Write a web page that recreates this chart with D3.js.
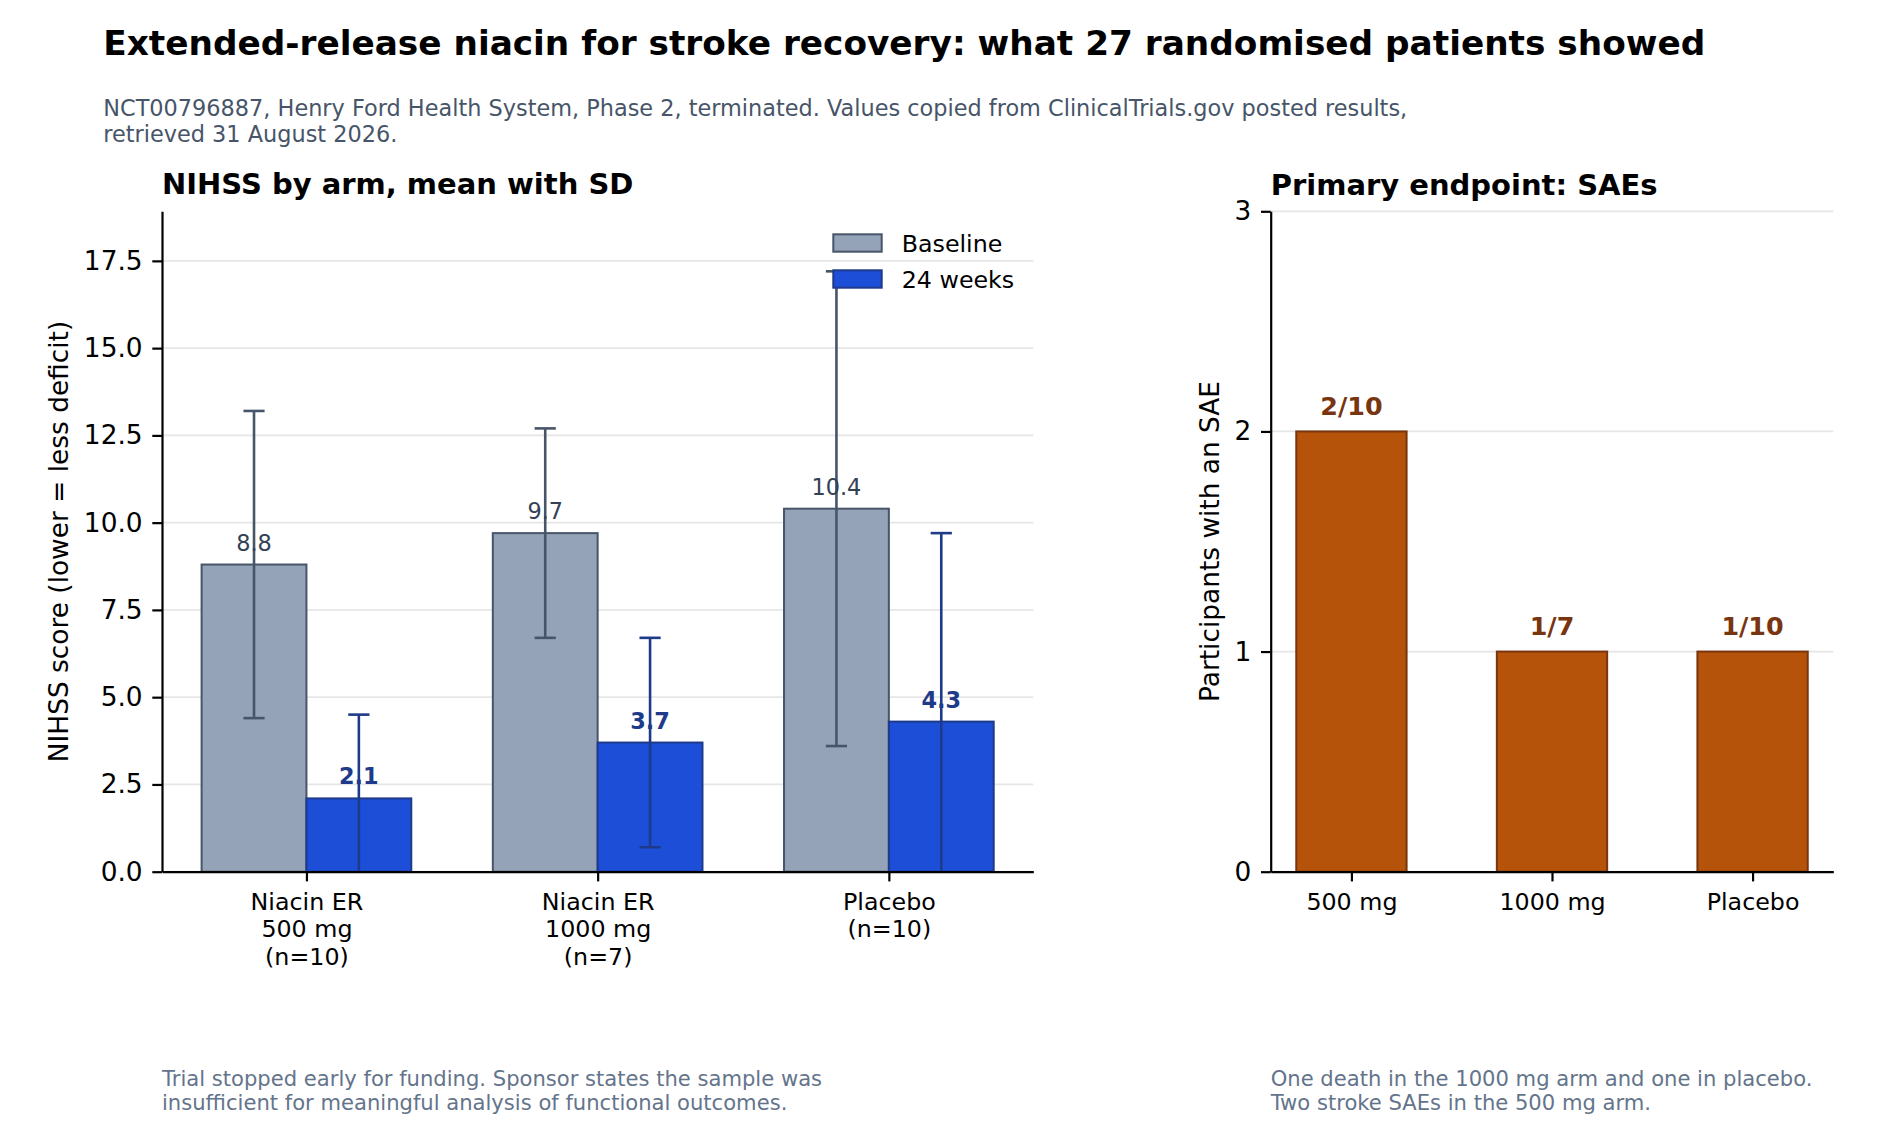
<!DOCTYPE html>
<html><head><meta charset="utf-8">
<script src="https://cdn.jsdelivr.net/npm/d3@7"></script>
<style>
body{margin:0;background:#fff}
svg text{font-family:"DejaVu Sans",sans-serif}
</style>
</head><body>
<svg id="chart" width="1900" height="1140"></svg>
<script>
// ---------- data ----------
const arms = ["Niacin ER\n500 mg\n(n=10)", "Niacin ER\n1000 mg\n(n=7)", "Placebo\n(n=10)"];
const baselineMean = [8.8, 9.7, 10.4];
const baselineSD = [4.4, 3.0, 6.8];
const week24Mean = [2.1, 3.7, 4.3];
const week24SD = [2.4, 3.0, 5.4];
const leftTicks = [0, 2.5, 5, 7.5, 10, 12.5, 15, 17.5];
const seriesNames = ["Baseline", "24 weeks"];
const saeArms = ["500 mg", "1000 mg", "Placebo"];
const saeCount = [2, 1, 1];
const saeTotal = [10, 7, 10];
const rightTicks = [0, 1, 2, 3];

const titleText = "Extended-release niacin for stroke recovery: what 27 randomised patients showed";
const subtitleLines = ["NCT00796887, Henry Ford Health System, Phase 2, terminated. Values copied from ClinicalTrials.gov posted results,",
  "retrieved 31 August 2026."];
const leftTitle = "NIHSS by arm, mean with SD";
const rightTitle = "Primary endpoint: SAEs";
const leftYLabel = "NIHSS score (lower = less deficit)";
const rightYLabel = "Participants with an SAE";
const leftNote = ["Trial stopped early for funding. Sponsor states the sample was",
  "insufficient for meaningful analysis of functional outcomes."];
const rightNote = ["One death in the 1000 mg arm and one in placebo.",
  "Two stroke SAEs in the 500 mg arm."];

// ---------- styles ----------
const C = {
  baseFill: "#94a3b8", baseEdge: "#475569", baseLabel: "#334155",
  wkFill: "#1d4ed8", wkEdge: "#1e3a8a", wkLabel: "#1e3a8a",
  saeFill: "#b45309", saeEdge: "#78350f", saeLabel: "#78350f",
  grid: "#e6e6e6", sub: "#475569", note: "#64748b"
};
const XTICK = 23.75, YTICK = 26.4, LABEL = 26.4;

const svg = d3.select("#chart");

// ---------- header ----------
svg.append("text").attr("x", 103.3).attr("y", 55).attr("font-size", 34.3)
  .attr("font-weight", "bold").attr("fill", "#000").text(titleText);
subtitleLines.forEach((t, i) => svg.append("text").attr("x", 103.3).attr("y", 116 + i * 25.5)
  .attr("font-size", 22.4).attr("fill", C.sub).text(t));

const yTop = 211.3, yBottom = 871.7;

function styleAxis(g, size) {
  g.attr("font-family", null).attr("font-size", size);
  g.selectAll(".domain").attr("stroke", "#000").attr("stroke-width", 2.2);
  g.selectAll(".tick line").attr("stroke", "#000").attr("stroke-width", 2.2);
  g.selectAll(".tick text").attr("fill", "#000");
}

// ---------- left panel ----------
const xL = d3.scaleLinear().domain([-0.496, 2.496]).range([162, 1033.3]);
const yL = d3.scaleLinear().domain([0, 18.92]).range([yBottom, yTop]);
const bw = 0.36;
const L = svg.append("g");

L.append("clipPath").attr("id", "clipL").append("rect")
  .attr("x", xL.range()[0]).attr("y", yTop).attr("width", xL.range()[1] - xL.range()[0]).attr("height", yBottom - yTop);

L.append("g").selectAll("line").data(leftTicks).join("line")
  .attr("x1", xL.range()[0]).attr("x2", xL.range()[1])
  .attr("y1", d => yL(d)).attr("y2", d => yL(d))
  .attr("stroke", C.grid).attr("stroke-width", 1.8);

const series = [
  {mean: baselineMean, sd: baselineSD, off: -bw, fill: C.baseFill, edge: C.baseEdge, lab: C.baseLabel, bold: false},
  {mean: week24Mean, sd: week24SD, off: 0, fill: C.wkFill, edge: C.wkEdge, lab: C.wkLabel, bold: true}
];

series.forEach(s => {
  L.append("g").selectAll("rect").data(s.mean).join("rect")
    .attr("x", (d, i) => xL(i + s.off)).attr("width", xL(bw) - xL(0))
    .attr("y", d => yL(d)).attr("height", d => yL(0) - yL(d))
    .attr("fill", s.fill).attr("stroke", s.edge).attr("stroke-width", 2);
});

series.forEach(s => {
  const eg = L.append("g").attr("clip-path", "url(#clipL)");
  s.mean.forEach((m, i) => {
    const cx = xL(i + s.off + bw / 2);
    const lo = yL(m - s.sd[i]), hi = yL(m + s.sd[i]);
    eg.append("line").attr("x1", cx).attr("x2", cx).attr("y1", lo).attr("y2", hi)
      .attr("stroke", s.edge).attr("stroke-width", 2.6);
    [lo, hi].forEach(y => eg.append("line").attr("x1", cx - 10.6).attr("x2", cx + 10.6)
      .attr("y1", y).attr("y2", y).attr("stroke", s.edge).attr("stroke-width", 2.6));
  });
});

series.forEach(s => {
  L.append("g").selectAll("text").data(s.mean).join("text")
    .attr("x", (d, i) => xL(i + s.off + bw / 2)).attr("y", d => yL(d) - 14)
    .attr("text-anchor", "middle").attr("font-size", 22.4)
    .attr("font-weight", s.bold ? "bold" : "normal").attr("fill", s.lab)
    .text(d => d.toFixed(1));
});

const axL = L.append("g").attr("transform", `translate(${xL.range()[0]},0)`)
  .call(d3.axisLeft(yL).tickValues(leftTicks).tickFormat(d3.format(".1f"))
    .tickSize(9.7).tickPadding(9.7).tickSizeOuter(0));
styleAxis(axL, YTICK);

const axLB = L.append("g").attr("transform", `translate(0,${yBottom})`)
  .call(d3.axisBottom(xL).tickValues([0, 1, 2]).tickFormat(d => arms[d])
    .tickSize(9.7).tickPadding(9.7).tickSizeOuter(0));
styleAxis(axLB, XTICK);
axLB.selectAll(".tick text").each(function(d) {
  const t = d3.select(this);
  const lines = arms[d].split("\n");
  t.text(null).attr("dy", null).attr("y", 20.5);
  lines.forEach((ln, k) => t.append("tspan").attr("x", 0)
    .attr("dy", k === 0 ? "0.73em" : 27.5).text(ln));
});

L.append("text").attr("x", 162).attr("y", 194.3).attr("font-size", 29)
  .attr("font-weight", "bold").attr("fill", "#000").text(leftTitle);

L.append("text").attr("transform", `translate(67.5,${(yTop + yBottom) / 2}) rotate(-90)`)
  .attr("text-anchor", "middle").attr("font-size", LABEL).attr("fill", "#000").text(leftYLabel);

// legend
const leg = L.append("g");
series.forEach((s, i) => {
  leg.append("rect").attr("x", 833.3).attr("y", 234.3 + i * 36).attr("width", 48.4).attr("height", 17.4)
    .attr("fill", s.fill).attr("stroke", s.edge).attr("stroke-width", 2);
  leg.append("text").attr("x", 901.7).attr("y", 243 + i * 36).attr("dy", "0.36em")
    .attr("font-size", XTICK).attr("fill", "#000").text(seriesNames[i]);
});

leftNote.forEach((t, i) => svg.append("text").attr("x", 162).attr("y", 1086 + i * 24.3)
  .attr("font-size", 21.1).attr("fill", C.note).text(t));

// ---------- right panel ----------
const xR = d3.scaleLinear().domain([-0.4025, 2.4025]).range([1270.7, 1833.3]);
const yR = d3.scaleLinear().domain([0, 3]).range([yBottom, yTop]);
const bwR = 0.55;
const R = svg.append("g");

R.append("g").selectAll("line").data(rightTicks).join("line")
  .attr("x1", xR.range()[0]).attr("x2", xR.range()[1])
  .attr("y1", d => yR(d)).attr("y2", d => yR(d))
  .attr("stroke", C.grid).attr("stroke-width", 1.8);

R.append("g").selectAll("rect").data(saeCount).join("rect")
  .attr("x", (d, i) => xR(i - bwR / 2)).attr("width", xR(bwR) - xR(0))
  .attr("y", d => yR(d)).attr("height", d => yR(0) - yR(d))
  .attr("fill", C.saeFill).attr("stroke", C.saeEdge).attr("stroke-width", 2);

R.append("g").selectAll("text").data(saeCount).join("text")
  .attr("x", (d, i) => xR(i)).attr("y", d => yR(d) - 16.5)
  .attr("text-anchor", "middle").attr("font-size", 25.4).attr("font-weight", "bold")
  .attr("fill", C.saeLabel).text((d, i) => `${d}/${saeTotal[i]}`);

const axR = R.append("g").attr("transform", `translate(${xR.range()[0]},0)`)
  .call(d3.axisLeft(yR).tickValues(rightTicks).tickFormat(d3.format("d"))
    .tickSize(9.7).tickPadding(9.7).tickSizeOuter(0));
styleAxis(axR, YTICK);

const axRB = R.append("g").attr("transform", `translate(0,${yBottom})`)
  .call(d3.axisBottom(xR).tickValues([0, 1, 2]).tickFormat(d => saeArms[d])
    .tickSize(9.7).tickPadding(10.8).tickSizeOuter(0));
styleAxis(axRB, XTICK);
axRB.selectAll(".tick text").attr("dy", "0.73em");

R.append("text").attr("x", 1270.7).attr("y", 195).attr("font-size", 29)
  .attr("font-weight", "bold").attr("fill", "#000").text(rightTitle);

R.append("text").attr("transform", `translate(1218.5,${(yTop + yBottom) / 2}) rotate(-90)`)
  .attr("text-anchor", "middle").attr("font-size", LABEL).attr("fill", "#000").text(rightYLabel);

rightNote.forEach((t, i) => svg.append("text").attr("x", 1270.7).attr("y", 1086 + i * 24.3)
  .attr("font-size", 21.1).attr("fill", C.note).text(t));
</script>
</body></html>
